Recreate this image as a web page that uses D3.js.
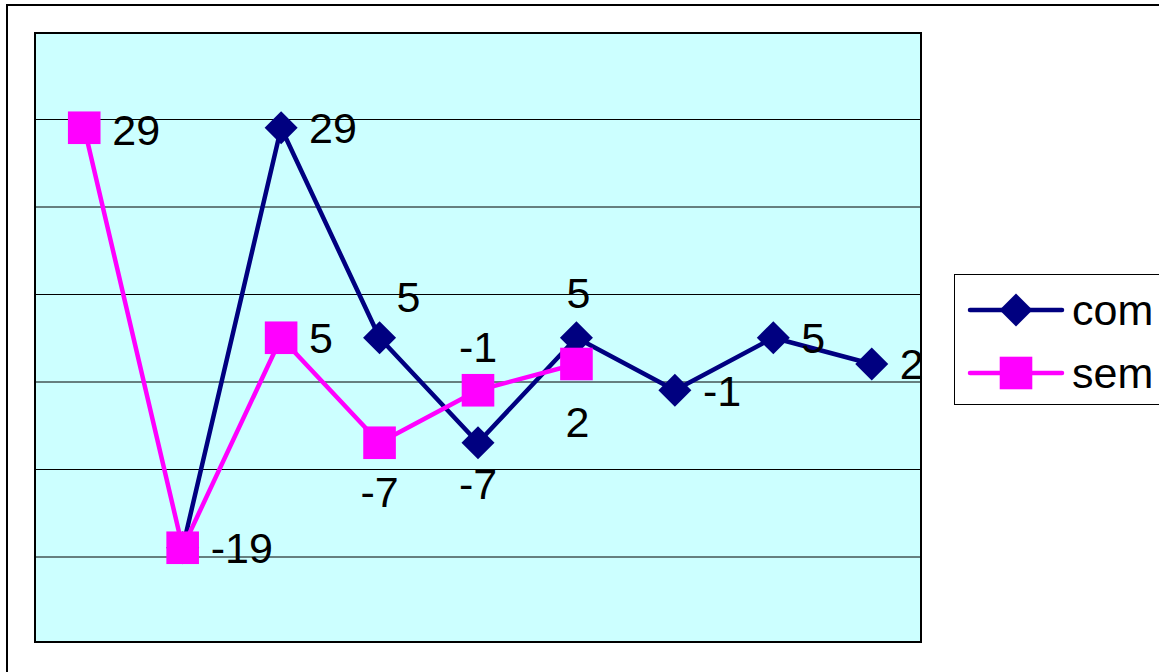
<!DOCTYPE html>
<html><head><meta charset="utf-8">
<script src="https://cdn.jsdelivr.net/npm/d3@7"></script>
<style>html,body{margin:0;padding:0;background:#fff;overflow:hidden}</style>
</head><body>
<svg id="chart" width="1159" height="672"></svg>
<script>
const categories = [1, 2, 3, 4, 5, 6, 7, 8, 9];
const comValues = [null, -19, 29, 5, -7, 5, -1, 5, 2];
const semValues = [29, -19, 5, -7, -1, 2, null, null, null];
const gridTicks = [-20, -10, 0, 10, 20, 30];
const yDomain = [-30, 40];
const seriesNames = ["com", "sem"];
// label placement styles: [anchor, dx, dy] per point (null = no label)
const comLabelPos = [null, null, ["start",28,0], ["middle",29,-41], ["middle",0,41], ["middle",2,-45], ["start",28,0], ["start",28,0], ["start",28,0]];
const semLabelPos = [["start",28,2], ["start",28,0], ["start",28,0], ["middle",0,49], ["middle",0,-44], ["middle",1,58], null, null, null];

const svg = d3.select("#chart");
const plot = {x0: 35, x1: 921, y0: 33, y1: 642};
const FONT = "'Liberation Sans', Arial, sans-serif";
const FS = 43;

// outer chart border
svg.append("rect").attr("x", 7).attr("y", 5).attr("width", 1200).attr("height", 700)
  .attr("fill", "#fff").attr("stroke", "#000").attr("stroke-width", 2);

const x = d3.scalePoint().domain(categories).range([plot.x0, plot.x1]).padding(0.5);
const y = d3.scaleLinear().domain(yDomain).range([644, 31.5]);

// plot background
svg.append("rect").attr("x", plot.x0).attr("y", plot.y0)
  .attr("width", plot.x1 - plot.x0).attr("height", plot.y1 - plot.y0)
  .attr("fill", "#CCFFFF");

// gridlines
const yAxis = d3.axisLeft(y).tickValues(gridTicks).tickSize(-(plot.x1 - plot.x0)).tickFormat("");
const g = svg.append("g").attr("transform", `translate(${plot.x0},0)`).call(yAxis);
g.select(".domain").remove();
g.selectAll(".tick line").attr("stroke", "#000").attr("stroke-width", 1);

const series = [
  {name: seriesNames[0], values: comValues, color: "#000080", marker: "diamond", labels: comLabelPos},
  {name: seriesNames[1], values: semValues, color: "#FF00FF", marker: "square", labels: semLabelPos}
];

const line = d3.line().defined(d => d.v !== null).x(d => x(d.c)).y(d => y(d.v));

function drawMarker(sel, type, color, cx, cy) {
  if (type === "diamond") {
    const r = 16.5;
    sel.append("path").attr("d", `M${cx},${cy - r}L${cx + r},${cy}L${cx},${cy + r}L${cx - r},${cy}Z`).attr("fill", color);
  } else {
    const h = 16.3;
    sel.append("rect").attr("x", cx - h).attr("y", cy - h).attr("width", 2 * h).attr("height", 2 * h).attr("fill", color);
  }
}

series.forEach(s => {
  const pts = categories.map((c, i) => ({c, v: s.values[i], i}));
  svg.append("path").datum(pts).attr("d", line).attr("fill", "none")
    .attr("stroke", s.color).attr("stroke-width", 4.5).attr("stroke-linejoin", "round");
  const mg = svg.append("g");
  pts.filter(p => p.v !== null).forEach(p => drawMarker(mg, s.marker, s.color, x(p.c), y(p.v)));
});

// data labels
series.forEach(s => {
  categories.forEach((c, i) => {
    const v = s.values[i], lp = s.labels[i];
    if (v === null || !lp) return;
    svg.append("text").attr("x", x(c) + lp[1]).attr("y", y(v) + lp[2]).attr("dy", "0.36em")
      .attr("text-anchor", lp[0]).attr("font-family", FONT).attr("font-size", FS)
      .attr("fill", "#000").text(v);
  });
});

// plot border
svg.append("rect").attr("x", plot.x0).attr("y", plot.y0)
  .attr("width", plot.x1 - plot.x0).attr("height", plot.y1 - plot.y0)
  .attr("fill", "none").attr("stroke", "#000").attr("stroke-width", 2);

// legend
const lg = svg.append("g");
lg.append("rect").attr("x", 954.5).attr("y", 274.5).attr("width", 300).attr("height", 130)
  .attr("fill", "#fff").attr("stroke", "#000").attr("stroke-width", 1);
const legendY = [310, 373];
series.forEach((s, i) => {
  const ly = legendY[i];
  lg.append("line").attr("x1", 970).attr("x2", 1062).attr("y1", ly).attr("y2", ly)
    .attr("stroke", s.color).attr("stroke-width", 4.5).attr("stroke-linecap", "round");
  drawMarker(lg, s.marker, s.color, 1016, ly);
  lg.append("text").attr("x", 1072).attr("y", ly).attr("dy", "0.36em")
    .attr("font-family", FONT).attr("font-size", FS).attr("fill", "#000").text(s.name);
});
</script>
</body></html>
